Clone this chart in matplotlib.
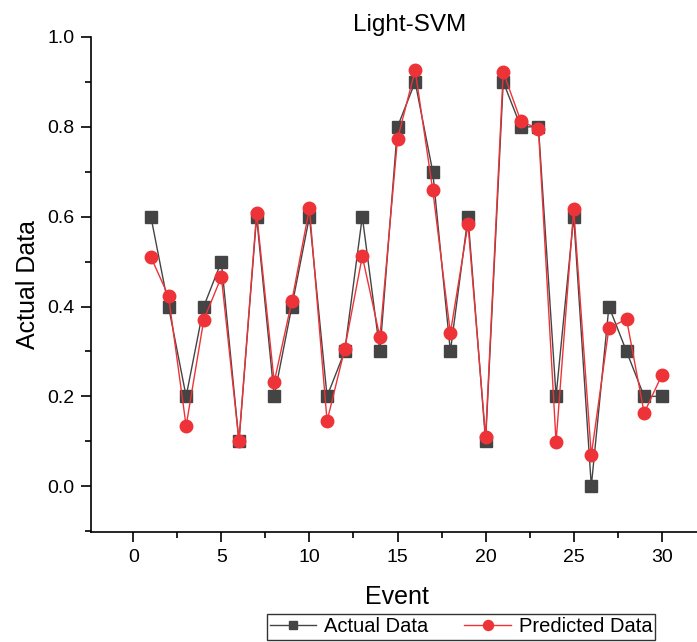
import matplotlib
matplotlib.use("Agg")
import matplotlib.pyplot as plt
from matplotlib.ticker import MultipleLocator, FormatStrFormatter

plt.rcParams['font.family'] = ['Liberation Sans', 'DejaVu Sans']

events = list(range(1, 31))
actual = [0.6, 0.4, 0.2, 0.4, 0.5, 0.1, 0.6, 0.2, 0.4, 0.6,
          0.2, 0.3, 0.6, 0.3, 0.8, 0.9, 0.7, 0.3, 0.6, 0.1,
          0.9, 0.8, 0.8, 0.2, 0.6, 0.0, 0.4, 0.3, 0.2, 0.2]
predicted = [0.510, 0.423, 0.134, 0.370, 0.466, 0.100, 0.608, 0.232, 0.412, 0.619,
             0.145, 0.305, 0.512, 0.332, 0.773, 0.926, 0.659, 0.341, 0.583, 0.109,
             0.922, 0.813, 0.795, 0.098, 0.617, 0.069, 0.352, 0.372, 0.163, 0.247]

W, H = 697, 642
fig = plt.figure(figsize=(W / 100, H / 100), dpi=100)
ax = fig.add_axes([91 / W, 110 / H, 1 - 91 / W, (532 - 37) / H])

ax.plot(events, actual, color='#444444', lw=1, marker='s', ms=8, label='Actual Data')
ax.plot(events, predicted, color='#ee3338', lw=1, marker='o', ms=9, label='Predicted Data')

ax.set_xlim(-2.4, 32.0)
ax.set_ylim(-0.102, 1.0)
ax.xaxis.set_major_locator(MultipleLocator(5))
ax.xaxis.set_minor_locator(MultipleLocator(2.5))
ax.yaxis.set_major_locator(MultipleLocator(0.2))
ax.yaxis.set_minor_locator(MultipleLocator(0.1))
ax.tick_params(which='major', direction='out', length=7, width=1.2, labelsize=14, pad=5)
ax.tick_params(which='minor', direction='out', length=4, width=1.2)
ax.yaxis.set_major_formatter(FormatStrFormatter('%.1f'))
ax.spines['top'].set_visible(False)
ax.spines['right'].set_visible(False)
ax.spines['left'].set_linewidth(1.2)
ax.spines['bottom'].set_linewidth(1.2)

ax.set_xlabel('Event', fontsize=18)
ax.xaxis.label.set_va('center')
ax.xaxis.set_label_coords((397 - 91) / 606, (532 - 597) / 495)
ax.set_ylabel('Actual Data', fontsize=18)
ax.yaxis.label.set_va('center')
ax.yaxis.set_label_coords((28 - 91) / 606, 0.5)
fig.text(410 / W, 1 - 25 / H, 'Light-SVM', ha='center', va='center', fontsize=17.5)

leg = fig.legend(loc='center', bbox_to_anchor=(461 / W, 1 - 627 / H), ncol=2,
                 frameon=True, fancybox=False, edgecolor='black', fontsize=14.5,
                 handlelength=2.3, borderpad=0.15, columnspacing=1.8, handletextpad=0.4,
                 markerscale=0.8, borderaxespad=0)
leg.get_frame().set_linewidth(1)

fig.savefig('out.png', dpi=100)
